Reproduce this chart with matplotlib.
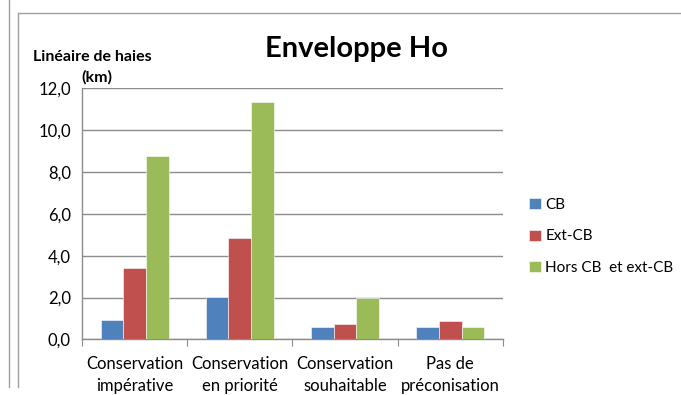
import numpy as np
import matplotlib.pyplot as plt
from matplotlib.lines import Line2D

plt.rcParams['font.family'] = ['Lato', 'DejaVu Sans']

categories = ["Conservation\nimpérative", "Conservation\nen priorité",
              "Conservation\nsouhaitable", "Pas de\npréconisation"]
series_names = ["CB", "Ext-CB", "Hors CB  et ext-CB"]
cb = [0.93, 2.01, 0.59, 0.59]
ext_cb = [3.43, 4.86, 0.73, 0.86]
hors = [8.77, 11.33, 1.97, 0.59]
yticks = [0, 2, 4, 6, 8, 10, 12]
ytick_labels = ["0,0", "2,0", "4,0", "6,0", "8,0", "10,0", "12,0"]

colors = ["#4F81BD", "#C0504D", "#9BBB59"]

fig = plt.figure(figsize=(6.81, 3.95), dpi=100)
ax = fig.add_axes([0.1204, 0.141, 0.618, 0.635])

x = np.arange(len(categories))
w = 0.216
for i, vals in enumerate([cb, ext_cb, hors]):
    ax.bar(x + (i - 1) * w, vals, w, color=colors[i], label=series_names[i],
           edgecolor="white", linewidth=0.4, zorder=3)

ax.set_xlim(-0.5, 3.5)
ax.set_ylim(0, 12)
ax.set_yticks(yticks)
ax.set_yticklabels(ytick_labels, fontsize=12)
ax.yaxis.grid(True, color="#8c8c8c", linewidth=1)
ax.set_axisbelow(True)

# category boundaries as ticks, labels in the middle
ax.set_xticks(np.arange(-0.5, 4, 1))
ax.set_xticklabels([])
ax.set_xticks(x, minor=True)
ax.set_xticklabels(categories, minor=True, fontsize=12, linespacing=1.5)
ax.tick_params(axis="x", which="minor", length=0, pad=12)
ax.tick_params(axis="x", which="major", length=5, color="#8c8c8c")
ax.tick_params(axis="y", length=0, pad=8)

for s in ["top", "right"]:
    ax.spines[s].set_visible(False)
for s in ["left", "bottom"]:
    ax.spines[s].set_color("#8c8c8c")
    ax.spines[s].set_linewidth(1)

fig.text(0.524, 0.875, "Enveloppe Ho", fontsize=21, fontweight="bold",
         ha="center", va="center")
fig.text(0.136, 0.855, "Linéaire de haies", fontsize=11.5, fontweight="bold",
         ha="center", va="center")
fig.text(0.142, 0.805, "(km)", fontsize=11.5, fontweight="bold",
         ha="center", va="center")

ax.legend(loc="center left", bbox_to_anchor=(1.03, 0.41), frameon=False,
          fontsize=11, handlelength=0.75, handleheight=0.75, handletextpad=0.3,
          labelspacing=1.15)

# chart frame remnants
fig.add_artist(Line2D([0.0125, 0.0125], [0.02, 1.0], color="#a0a0a0", lw=1))
fig.add_artist(Line2D([0.026, 0.026], [0.02, 0.967], color="#a0a0a0", lw=1))
fig.add_artist(Line2D([0.026, 1.0], [0.967, 0.967], color="#a0a0a0", lw=1))

fig.savefig("out.png", dpi=100)
